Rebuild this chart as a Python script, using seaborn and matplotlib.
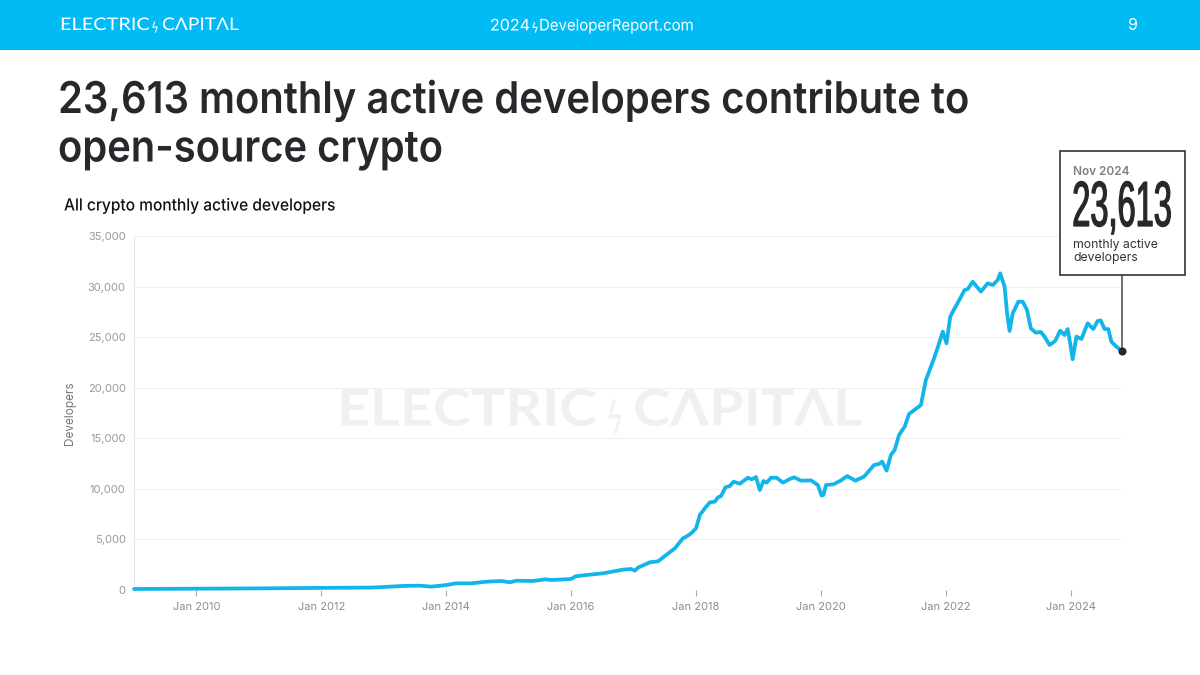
import matplotlib
matplotlib.use("Agg")
import matplotlib.pyplot as plt
import matplotlib.patheffects as pe
from matplotlib.patches import Rectangle
from matplotlib.transforms import Affine2D, blended_transform_factory
import seaborn as sns
import pandas as pd

# decimal years + developer counts
years = [2009.0, 2010.0, 2011.0, 2012.0, 2012.8, 2013.0, 2013.3, 2013.58, 2013.76, 2014.0, 2014.16, 2014.4, 2014.64,
         2014.88, 2015.02, 2015.12, 2015.39, 2015.58, 2015.69, 2016.0, 2016.07, 2016.24, 2016.51, 2016.83, 2016.96,
         2017.02, 2017.07, 2017.26, 2017.39, 2017.52, 2017.66, 2017.79, 2017.85, 2017.92, 2018.0, 2018.06, 2018.14,
         2018.22, 2018.3, 2018.35, 2018.4, 2018.47, 2018.54, 2018.6, 2018.7, 2018.83, 2018.89, 2018.96, 2019.02,
         2019.08, 2019.13, 2019.2, 2019.29, 2019.39, 2019.5, 2019.57, 2019.68, 2019.84, 2019.95, 2020.01, 2020.04,
         2020.08, 2020.2, 2020.31, 2020.42, 2020.55, 2020.69, 2020.85, 2020.93, 2020.98, 2021.05, 2021.12,
         2021.18, 2021.25, 2021.34, 2021.41, 2021.6, 2021.68, 2021.81, 2021.87, 2021.95, 2022.01, 2022.07,
         2022.14, 2022.22, 2022.3, 2022.35, 2022.43, 2022.56, 2022.67, 2022.75, 2022.83, 2022.87, 2022.94,
         2022.98, 2023.02, 2023.07, 2023.16, 2023.23, 2023.3, 2023.36, 2023.44, 2023.52, 2023.58, 2023.66,
         2023.75, 2023.83, 2023.9, 2023.95, 2023.99, 2024.03, 2024.09, 2024.17, 2024.27, 2024.36, 2024.43,
         2024.48, 2024.54, 2024.6, 2024.65, 2024.72, 2024.82]
developers = [100, 130, 160, 210, 240, 300, 400, 430, 330, 490, 660, 660, 820,
              890, 760, 920, 890, 1050, 990, 1090, 1350, 1480, 1650, 2010, 2080,
              1910, 2210, 2740, 2830, 3460, 4120, 5110, 5300, 5600, 6100, 7415, 8075,
              8670, 8730, 9160, 9290, 10150, 10280, 10710, 10510, 11100, 10940, 11170, 9890,
              10780, 10610, 11100, 11100, 10610, 10970, 11140, 10810, 10840, 10380, 9330, 9400,
              10380, 10450, 10800, 11270, 10810, 11210, 12360, 12460, 12690, 11800, 13350,
              13840, 15330, 16150, 17400, 18290, 20760, 22900, 23990, 25540, 24390, 27030,
              27850, 28740, 29660, 29750, 30480, 29500, 30320, 30150, 30650, 31310, 29990,
              27350, 25610, 27350, 28510, 28510, 27680, 25870, 25440, 25510, 25050, 24220,
              24620, 25640, 25210, 25800, 24390, 22810, 25050, 24820, 26370, 25800, 26600,
              26660, 25800, 25800, 24550, 24120, 23613]
y_ticks = [0, 5000, 10000, 15000, 20000, 25000, 30000, 35000]
x_ticks = [2010, 2012, 2014, 2016, 2018, 2020, 2022, 2024]
x_labels = ["Jan 2010", "Jan 2012", "Jan 2014", "Jan 2016", "Jan 2018", "Jan 2020", "Jan 2022", "Jan 2024"]

BLUE = "#00BBF4"
LINE = "#12B5EA"
DARK = "#26282B"
LOGO_FONT = ["Lato", "DejaVu Sans"]


class Stretch(pe.AbstractPathEffect):
    # squeeze or widen a text horizontally around a fixed x, optional outline to thicken it
    def __init__(self, x0, sx, stroke=0):
        super().__init__()
        self.x0, self.sx, self.stroke = x0, sx, stroke

    def draw_path(self, renderer, gc, tpath, affine, rgbFace=None):
        squeeze = Affine2D().translate(-self.x0, 0).scale(self.sx, 1).translate(self.x0, 0)
        gc0 = renderer.new_gc()
        gc0.copy_properties(gc)
        if self.stroke:
            gc0.set_linewidth(self.stroke)
            gc0.set_foreground(rgbFace)
        renderer.draw_path(gc0, tpath, affine + squeeze, rgbFace)
        gc0.restore()


sns.set_theme(style="white")
plt.rcParams["font.family"] = ["Inter", "DejaVu Sans"]

fig = plt.figure(figsize=(12, 6.75), dpi=100)
renderer = fig.canvas.get_renderer()


def fx(px):
    return px / 1200


def fy(py):
    return 1 - py / 675


def ftext(px, py, s, **kw):
    return fig.text(fx(px), fy(py), s, **kw)


def fit_text(x0, x1, py, s, **kw):
    # text drawn so that its ink runs from pixel x0 to pixel x1
    t = ftext(x0, py, s, va="center", **kw)
    width = t.get_window_extent(renderer).width
    t.set_path_effects([Stretch(x0, (x1 - x0) / width)])
    return t


# header band
fig.add_artist(Rectangle((0, fy(50)), 1, 50 / 675, transform=fig.transFigure, color=BLUE, lw=0))
fit_text(60, 150, 25, "ELECTRIC", color="white", fontsize=12.5, family=LOGO_FONT)
fit_text(152, 158, 25, "ϟ", color="white", fontsize=12, family=LOGO_FONT)
fit_text(162, 239, 25, "CΛPITΛL", color="white", fontsize=12.5, family=LOGO_FONT)
fit_text(490, 530, 26, "2024", color="white", fontsize=11.5)
fit_text(532, 538, 26, "ϟ", color="white", fontsize=11, family=LOGO_FONT)
fit_text(539, 693, 26, "DeveloperReport.com", color="white", fontsize=11.5)
ftext(1133, 26, "9", color="white", fontsize=11.5, va="center", ha="center")

# headline
fit_text(58, 970, 101, "23,613 monthly active developers contribute to", color=DARK, fontsize=31.5, fontweight="semibold")
fit_text(58, 443, 150, "open-source crypto", color=DARK, fontsize=31.5, fontweight="semibold")
fit_text(64, 336, 206, "All crypto monthly active developers", color="#111111", fontsize=12, fontweight="medium")

# chart
ax = fig.add_axes([fx(134), fy(590), 988 / 1200, 354 / 675])
ax.set_facecolor("none")
df = pd.DataFrame({"year": years, "developers": developers})
ax.grid(axis="y", color="#F1F1F1", lw=0.8)
ax.set_axisbelow(True)
sns.lineplot(data=df, x="year", y="developers", color=LINE, lw=2.7, estimator=None, ax=ax, clip_on=False, zorder=3)
sns.scatterplot(x=years[-1:], y=developers[-1:], color=DARK, s=34, linewidth=0, ax=ax, clip_on=False, zorder=5)
ax.set_xlim(2009, years[-1])
ax.set_ylim(0, 35000)
ax.set_yticks(y_ticks)
ax.set_yticklabels([f"{v:,}" for v in y_ticks])
ax.set_xticks(x_ticks)
ax.set_xticklabels(x_labels)
ax.tick_params(axis="y", length=0, pad=6, labelsize=8, labelcolor="#999999")
ax.tick_params(axis="x", length=4, width=0.8, color="#AAAAAA", pad=5, labelsize=8, labelcolor="#8C8C8C", bottom=True)
ax.set_xlabel("")
ax.set_ylabel("")
sns.despine(ax=ax, top=True, right=True, bottom=True)
ax.spines["left"].set_color("#E6E6E6")
ax.spines["left"].set_linewidth(0.8)
ftext(70, 413, "Developers", color="#777777", fontsize=8.5, rotation=90, va="center", ha="center")

# faint logo behind the line
fit_text(337, 597, 411, "ELECTRIC", color="#F0F0F0", fontsize=36, fontweight="bold", family=LOGO_FONT, zorder=-1)
fit_text(608, 622, 411, "ϟ", color="#F0F0F0", fontsize=36, family=LOGO_FONT, zorder=-1)
fit_text(633, 862, 411, "CΛPITΛL", color="#F0F0F0", fontsize=36, fontweight="bold", family=LOGO_FONT, zorder=-1)

# callout with the leader line down to the last point
leader = blended_transform_factory(ax.transData, fig.transFigure)
ax.annotate("", xy=(years[-1], developers[-1]), xytext=(years[-1], fy(275)), textcoords=leader, xycoords="data",
            arrowprops=dict(arrowstyle="-", color="#555555", lw=1.2, shrinkA=0, shrinkB=0), zorder=4)
fig.add_artist(Rectangle((fx(1060), fy(275)), 125 / 1200, 124 / 675, transform=fig.transFigure,
                         facecolor="white", edgecolor="#333333", lw=1.2, zorder=6))
ftext(1073, 172, "Nov 2024", color="#808080", fontsize=8.5, fontweight="semibold", va="center", zorder=7)
ftext(1172, 209, "23,613", color=DARK, fontsize=46, va="center", ha="right",
      family=["Liberation Sans Narrow", "Liberation Sans"], zorder=7, path_effects=[Stretch(1172, 0.51, stroke=0.9)])
ftext(1073, 245, "monthly active", color="#333333", fontsize=8.8, va="center", zorder=7)
ftext(1073, 258, "developers", color="#333333", fontsize=8.8, va="center", zorder=7)

fig.savefig("out.png", dpi=100)
